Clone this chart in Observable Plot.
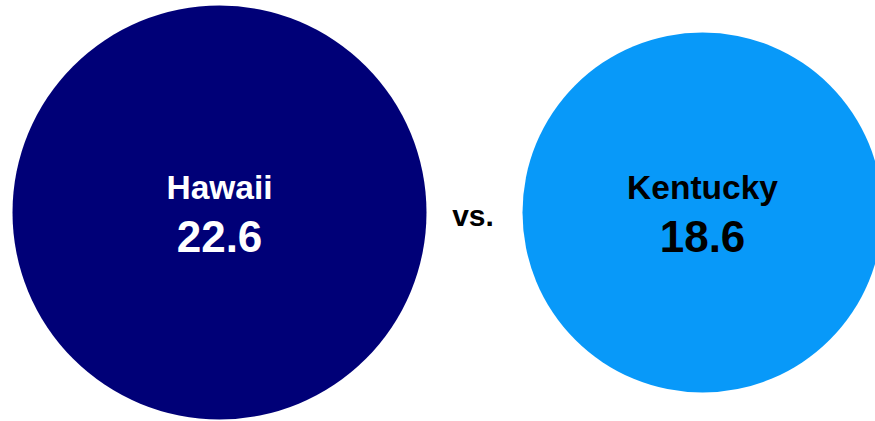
<!DOCTYPE html>
<html>
<head>
<meta charset="utf-8">
<script src="https://cdn.jsdelivr.net/npm/d3@7"></script>
<script src="https://cdn.jsdelivr.net/npm/@observablehq/plot@0.6"></script>
<style>
  html, body { margin: 0; padding: 0; background: #fff; overflow: hidden; }
</style>
</head>
<body>
<div id="chart"></div>
<script>
const states = ["Hawaii", "Kentucky"];
const values = [22.6, 18.6];
const fills = ["#000077", "#0899f9"];
const textColors = ["#ffffff", "#000000"];
const separator = "vs.";

const data = states.map((s, i) => ({state: s, value: values[i], fill: fills[i], color: textColors[i]}));

const chart = Plot.plot({
  width: 875,
  height: 421,
  marginTop: 3,
  marginBottom: 0,
  marginLeft: 0,
  marginRight: 0,
  style: {fontFamily: "Liberation Sans, Arial, sans-serif", overflow: "hidden"},
  x: {type: "point", domain: states, range: [219, 702], padding: 0, axis: null},
  r: {type: "linear", domain: [18.6, 22.6], range: [180, 207]},
  marks: [
    Plot.dot(data, {x: "state", r: "value", fill: d => d.fill, stroke: null}),
    Plot.text(data, {x: "state", text: "state", fill: d => d.color, fontSize: 33.5, fontWeight: "bold", dy: -24}),
    Plot.text(data, {x: "state", text: d => d.value.toFixed(1), fill: d => d.color, fontSize: 44, fontWeight: "bold", dy: 25}),
    Plot.text([separator], {text: d => d, frameAnchor: "middle", dx: 35, dy: 4, fontSize: 30, fontWeight: "bold", fill: "#000"})
  ]
});
document.getElementById("chart").appendChild(chart);
</script>
</body>
</html>
